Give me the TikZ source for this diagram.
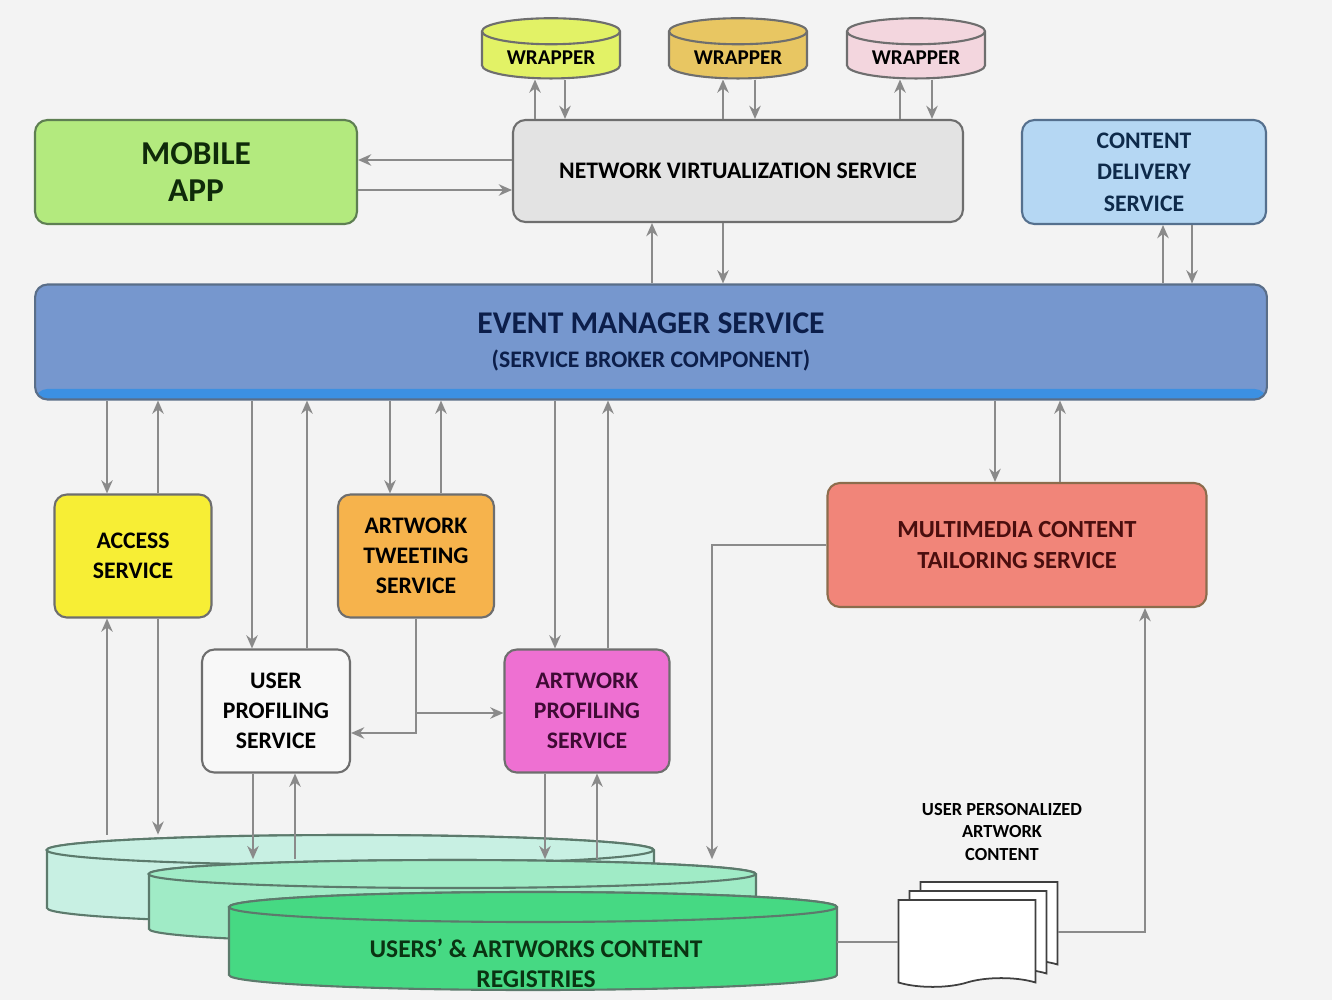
\documentclass[tikz,border=0pt]{standalone}
\usepackage{fontspec}
\setmainfont{Carlito}
\usetikzlibrary{shapes.geometric,shapes.symbols,arrows.meta}

\definecolor{bgcol}{HTML}{F3F3F3}
\definecolor{arrline}{HTML}{8A8A8A}
\definecolor{boxline}{HTML}{6E6E6E}
\definecolor{mobfill}{HTML}{B3EA7E}
\definecolor{mobline}{HTML}{5E7F52}
\definecolor{mobtext}{HTML}{0F2A0A}
\definecolor{nvsfill}{HTML}{E3E3E3}
\definecolor{cdsfill}{HTML}{B5D7F3}
\definecolor{cdsline}{HTML}{55708E}
\definecolor{cdstext}{HTML}{0E2A4A}
\definecolor{emsfill}{HTML}{7697CE}
\definecolor{emsline}{HTML}{5A6E88}
\definecolor{emstext}{HTML}{0C1E4A}
\definecolor{emsband}{HTML}{3C90E2}
\definecolor{accfill}{HTML}{F7EE35}
\definecolor{atsfill}{HTML}{F6B34C}
\definecolor{upsfill}{HTML}{F8F8F8}
\definecolor{apsfill}{HTML}{EE70D2}
\definecolor{apstext}{HTML}{3E0A34}
\definecolor{mctsfill}{HTML}{F18579}
\definecolor{mctsline}{HTML}{8C6C4C}
\definecolor{mctstext}{HTML}{4A0E0E}
\definecolor{wrapAfill}{HTML}{E2F266}
\definecolor{wrapBfill}{HTML}{E8C662}
\definecolor{wrapCfill}{HTML}{F3D6DE}
\definecolor{regAfill}{HTML}{C8F0E3}
\definecolor{regBfill}{HTML}{A0EBC6}
\definecolor{regCfill}{HTML}{46D983}
\definecolor{regline}{HTML}{5C7A6C}
\definecolor{regtext}{HTML}{0A3312}

\begin{document}
\begin{tikzpicture}[x=0.02cm,y=-0.02cm]

\tikzset{
  svc/.style={draw=boxline, line width=1.2pt, rounded corners=7pt, align=center, text=black,
    font=\bfseries\fontsize{13.5}{17}\selectfont},
  wrap/.style={cylinder, shape border rotate=90, draw=boxline, line width=1.2pt, aspect=0.26,
    minimum width=2.76cm, minimum height=1.2cm, font=\bfseries\fontsize{12}{14}\selectfont},
  regbox/.style={rectangle, minimum width=12.14cm, inner sep=0pt},
  regcyl/.style={draw=regline, line width=1.2pt},
  doc/.style={tape, tape bend top=none, draw=black!75, fill=white, line width=1pt,
    minimum width=2.74cm, minimum height=1.74cm},
  arr/.style={draw=arrline, line width=1.3pt, -{Stealth[length=7.5pt,width=6.5pt]}},
  link/.style={draw=arrline, line width=1.3pt}
}

\fill[bgcol] (0,0) rectangle (1332,1000);
\useasboundingbox (0,0) rectangle (1332,1000);

\node[wrap, fill=wrapAfill] (wrapA) at (551,58) {WRAPPER};
\node[wrap, fill=wrapBfill] (wrapB) at (738,58) {WRAPPER};
\node[wrap, fill=wrapCfill] (wrapC) at (916,58) {WRAPPER};

\node[svc, fill=mobfill, draw=mobline, text=mobtext, minimum width=6.44cm, minimum height=2.08cm,
  font=\bfseries\fontsize{19}{21.5}\selectfont] (mob) at (196,172) {MOBILE\\APP};
\node[svc, fill=nvsfill, minimum width=9cm, minimum height=2.04cm] (nvs) at (738,171) {NETWORK VIRTUALIZATION SERVICE};
\node[svc, fill=cdsfill, draw=cdsline, text=cdstext, minimum width=4.88cm, minimum height=2.08cm,
  font=\bfseries\fontsize{13.5}{18}\selectfont] (cds) at (1144,172) {CONTENT\\DELIVERY\\SERVICE};

\node[svc, fill=emsfill, draw=emsline, text=emstext, minimum width=24.64cm, minimum height=2.3cm,
  path picture={\fill[emsband] ([yshift=6pt]path picture bounding box.south west) rectangle (path picture bounding box.south east);}]
  (ems) at (651,342) {{\fontsize{18}{20}\selectfont EVENT MANAGER SERVICE}\\[2pt]{\fontsize{13.5}{16}\selectfont (SERVICE BROKER COMPONENT)}};

\node[svc, fill=accfill, minimum width=3.14cm, minimum height=2.46cm] (acc) at (133,556) {ACCESS\\SERVICE};
\node[svc, fill=atsfill, minimum width=3.12cm, minimum height=2.46cm] (ats) at (416,556) {ARTWORK\\TWEETING\\SERVICE};
\node[svc, fill=upsfill, minimum width=2.96cm, minimum height=2.46cm] (ups) at (276,711) {USER\\PROFILING\\SERVICE};
\node[svc, fill=apsfill, text=apstext, minimum width=3.3cm, minimum height=2.46cm] (aps) at (587,711) {ARTWORK\\PROFILING\\SERVICE};
\node[svc, fill=mctsfill, draw=mctsline, text=mctstext, minimum width=7.58cm, minimum height=2.48cm,
  font=\bfseries\fontsize{14}{17.5}\selectfont] (mcts) at (1017,545) {MULTIMEDIA CONTENT\\TAILORING SERVICE};

\node[regbox, minimum height=1.76cm] (regA) at (350,879) {};
\node[regbox, minimum height=1.66cm] (regB) at (452,901) {};
\node[regbox, minimum height=1.96cm] (regC) at (533,941) {};

\draw[regcyl, fill=regAfill] (47,850) -- (47,908) arc[start angle=180, end angle=360, x radius=6.07cm, y radius=0.3cm]
  -- (654,850) arc[start angle=0, end angle=180, x radius=6.07cm, y radius=0.3cm] -- cycle;
\draw[regcyl, fill=regAfill] (350,850) ellipse[x radius=6.07cm, y radius=0.3cm];
\draw[regcyl, fill=regBfill] (149,874) -- (149,929) arc[start angle=180, end angle=360, x radius=6.07cm, y radius=0.28cm]
  -- (756,874) arc[start angle=0, end angle=180, x radius=6.07cm, y radius=0.28cm] -- cycle;
\draw[regcyl, fill=regBfill] (452,874) ellipse[x radius=6.07cm, y radius=0.28cm];
\draw[regcyl, fill=regCfill] (229,907) -- (229,975) arc[start angle=180, end angle=360, x radius=6.08cm, y radius=0.3cm]
  -- (837,907) arc[start angle=0, end angle=180, x radius=6.08cm, y radius=0.3cm] -- cycle;
\draw[regcyl, fill=regCfill] (533,907) ellipse[x radius=6.08cm, y radius=0.3cm];
\node[align=center, text=regtext, font=\bfseries\fontsize{14.5}{17}\selectfont] (reglbl) at (536,963) {USERS' \& ARTWORKS CONTENT\\REGISTRIES};

\node[doc] (docC) at (989,921) {};
\node[doc] (docB) at (978,930) {};
\node[doc] (docA) at (967,939) {};
\node[align=center, font=\bfseries\fontsize{10.5}{13}\selectfont] (doclbl) at (1002,832) {USER PERSONALIZED\\ARTWORK\\CONTENT};

\draw[arr] (nvs.north -| 535,0) -- (wrapA.south -| 535,0);
\draw[arr] (wrapA.south -| 565,0) -- (nvs.north -| 565,0);
\draw[arr] (nvs.north -| 723,0) -- (wrapB.south -| 723,0);
\draw[arr] (wrapB.south -| 755,0) -- (nvs.north -| 755,0);
\draw[arr] (nvs.north -| 900,0) -- (wrapC.south -| 900,0);
\draw[arr] (wrapC.south -| 932,0) -- (nvs.north -| 932,0);

\draw[arr] (nvs.west |- 0,160) -- (mob.east |- 0,160);
\draw[arr] (mob.east |- 0,190) -- (nvs.west |- 0,190);

\draw[arr] (ems.north -| 652,0) -- (nvs.south -| 652,0);
\draw[arr] (nvs.south -| 723,0) -- (ems.north -| 723,0);
\draw[arr] (ems.north -| 1163,0) -- (cds.south -| 1163,0);
\draw[arr] (cds.south -| 1192,0) -- (ems.north -| 1192,0);

\draw[arr] (ems.south -| 107,0) -- (acc.north -| 107,0);
\draw[arr] (acc.north -| 158,0) -- (ems.south -| 158,0);
\draw[arr] (ems.south -| 252,0) -- (ups.north -| 252,0);
\draw[arr] (ups.north -| 307,0) -- (ems.south -| 307,0);
\draw[arr] (ems.south -| 390,0) -- (ats.north -| 390,0);
\draw[arr] (ats.north -| 441,0) -- (ems.south -| 441,0);
\draw[arr] (ems.south -| 555,0) -- (aps.north -| 555,0);
\draw[arr] (aps.north -| 608,0) -- (ems.south -| 608,0);
\draw[arr] (ems.south -| 995,0) -- (mcts.north -| 995,0);
\draw[arr] (mcts.north -| 1060,0) -- (ems.south -| 1060,0);

\draw[arr] (ats.south) |- (ups.east |- 0,733);
\draw[arr] (ats.south |- 0,713) -- (aps.west |- 0,713);

\draw[arr] (regA.north -| 107,0) -- (acc.south -| 107,0);
\draw[arr] (acc.south -| 158,0) -- (regA.north -| 158,0);
\draw[arr] (ups.south -| 253,0) -- (regB.north -| 253,0);
\draw[arr] (regB.north -| 295,0) -- (ups.south -| 295,0);
\draw[arr] (aps.south -| 545,0) -- (regB.north -| 545,0);
\draw[arr] (regB.north -| 597,0) -- (aps.south -| 597,0);

\draw[arr] (mcts.west |- 0,545) -| (regB.north -| 712,0);
\draw[arr] (docC.east |- 0,932) -| (mcts.south -| 1145,0);
\draw[link] (regC.east |- 0,942) -- (docA.west |- 0,942);

\end{tikzpicture}
\end{document}
